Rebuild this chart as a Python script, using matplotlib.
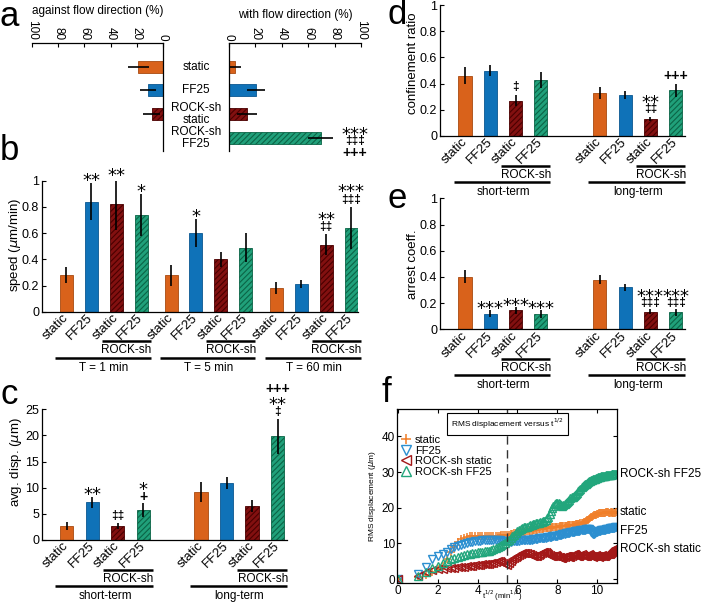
import numpy as np
import matplotlib
matplotlib.use('Agg')
import matplotlib.pyplot as plt
from matplotlib.transforms import blended_transform_factory, ScaledTranslation

# ---------------- data ----------------
a_categories = ['static', 'FF25', 'ROCK-sh\nstatic', 'ROCK-sh\nFF25']
against_vals = [19.0, 11.7, 8.6, 0.0]
against_err = [8.0, 6.0, 6.5, 0.0]
with_vals = [4.6, 20.5, 13.6, 69.4]
with_err = [4.8, 7.0, 7.5, 9.2]

bar_labels = ['static', 'FF25', 'static', 'FF25']

speed_groups = ['T = 1 min', 'T = 5 min', 'T = 60 min']
speed_vals = [0.28, 0.84, 0.82, 0.74, 0.28, 0.60, 0.40, 0.49, 0.18, 0.21, 0.51, 0.64]
speed_err = [0.06, 0.14, 0.20, 0.16, 0.08, 0.105, 0.055, 0.11, 0.045, 0.03, 0.08, 0.16]
speed_marks = {1: ['**'], 2: ['**'], 3: ['*'], 5: ['*'], 10: ['**', '‡‡'], 11: ['***', '‡‡‡']}

term_groups = ['short-term', 'long-term']
disp_vals = [2.7, 7.2, 2.7, 5.7, 9.1, 10.9, 6.5, 19.8]
disp_err = [0.8, 1.05, 0.6, 1.35, 1.9, 1.2, 1.1, 3.4]
disp_marks = {1: ['**'], 2: ['‡‡'], 3: ['*', '+'], 7: ['+++', '**', '‡']}

conf_vals = [0.46, 0.50, 0.27, 0.43, 0.33, 0.31, 0.13, 0.35]
conf_err = [0.065, 0.045, 0.04, 0.06, 0.045, 0.03, 0.015, 0.05]
conf_marks = {2: ['‡'], 6: ['**', '‡‡'], 7: ['+++']}

arrest_vals = [0.40, 0.12, 0.145, 0.115, 0.38, 0.32, 0.135, 0.13]
arrest_err = [0.05, 0.025, 0.027, 0.03, 0.035, 0.027, 0.02, 0.025]
arrest_marks = {1: ['***'], 2: ['***'], 3: ['***'], 6: ['***', '‡‡‡'], 7: ['***', '‡‡‡']}

# RMS displacement, sampled every minute (t = 0..120 min)
t_min = list(range(121))
rms_static = [0, 0.5, 1.2, 2.0, 2.8, 3.8, 5.5, 7.5, 9.0, 10.5, 11.2, 11.6, 11.8, 12.0, 12.0, 12.1, 12.1, 12.1,
              12.2, 12.1, 12.0, 12.1, 12.2, 12.1, 12.0, 12.1, 12.2, 12.3, 12.4, 12.3, 12.4, 12.5, 12.6, 12.7,
              12.8, 12.9, 13.0, 13.1, 13.1, 13.2, 13.3, 13.3, 13.4, 13.5, 13.6, 13.6, 13.7, 13.8, 13.8, 13.9,
              14.0, 14.0, 14.1, 14.1, 14.2, 14.2, 14.3, 14.3, 14.4, 14.4, 14.5, 14.5, 14.6, 14.6, 14.7, 14.7,
              14.8, 14.8, 14.9, 14.9, 15.0, 15.0, 15.0, 15.1, 15.1, 15.2, 15.2, 15.2, 15.3, 15.3, 15.4, 15.4,
              15.5, 15.5, 15.6, 15.7, 15.8, 15.9, 16.1, 16.3, 16.5, 16.7, 16.9, 17.1, 17.3, 17.5, 17.7, 17.9,
              18.0, 18.1, 18.2, 18.3, 18.4, 18.4, 18.5, 18.5, 18.6, 18.6, 18.6, 18.7, 18.7, 18.7, 18.6, 18.6,
              18.7, 18.7, 18.6, 18.6, 18.5, 18.6, 18.7]
rms_ff25 = [0, 1.5, 3.5, 5.5, 6.5, 7.0, 7.5, 8.5, 9.0, 9.3, 9.6, 9.9, 10.1, 10.3, 10.4, 10.6, 10.7, 10.8, 10.9,
            11.0, 11.0, 11.1, 11.1, 11.1, 11.0, 11.0, 10.9, 10.8, 10.7, 10.6, 10.6, 10.5, 10.5, 10.6, 10.6,
            10.7, 10.8, 10.8, 10.9, 10.9, 11.0, 11.0, 11.0, 11.0, 11.1, 11.1, 11.2, 11.2, 11.3, 11.3, 11.4,
            11.5, 11.5, 11.6, 11.6, 11.6, 11.7, 11.7, 11.8, 11.9, 12.0, 12.0, 12.1, 12.1, 12.2, 12.3, 12.4,
            12.5, 12.6, 12.6, 12.7, 12.8, 12.8, 12.9, 13.0, 13.1, 13.2, 13.3, 13.3, 13.4, 13.5, 13.5, 13.6,
            13.6, 13.7, 13.8, 13.8, 13.9, 13.9, 14.0, 14.0, 14.1, 14.0, 13.8, 13.3, 12.8, 12.6, 12.7, 12.9,
            13.1, 13.3, 13.4, 13.5, 13.6, 13.7, 13.8, 13.8, 13.9, 13.9, 14.0, 14.0, 14.1, 14.1, 14.2, 14.2,
            14.3, 14.3, 14.4, 14.4, 14.5, 14.6]
rms_rock_static = [0, 1.0, 2.0, 2.5, 2.8, 2.9, 3.0, 3.1, 3.2, 3.3, 3.4, 3.5, 3.6, 3.7, 3.8, 3.9, 4.0, 4.0, 4.1,
                   4.1, 4.2, 4.3, 4.4, 4.6, 4.8, 5.0, 5.0, 4.8, 4.5, 4.2, 4.0, 4.5, 5.2, 5.6, 5.9, 6.2, 6.5,
                   6.8, 7.1, 7.3, 7.4, 7.4, 7.3, 7.1, 6.9, 6.7, 6.5, 6.4, 6.4, 6.5, 6.7, 7.0, 7.3, 7.6, 7.7,
                   7.5, 7.2, 6.9, 6.7, 6.6, 6.5, 6.5, 6.6, 6.7, 6.5, 6.3, 6.1, 6.0, 6.0, 6.1, 6.3, 6.5, 6.6,
                   6.5, 6.3, 6.2, 6.4, 6.7, 6.9, 7.0, 6.8, 6.6, 6.5, 6.6, 6.8, 6.9, 6.8, 6.6, 6.4, 6.5, 6.6,
                   6.8, 6.9, 6.8, 6.6, 6.4, 6.3, 6.4, 6.6, 6.7, 6.6, 6.4, 6.3, 6.4, 6.6, 6.7, 6.6, 6.5, 6.6,
                   6.8, 6.9, 6.9, 7.0, 7.1, 7.3, 7.6, 7.9, 8.2, 8.4, 8.6, 8.7]
rms_rock_ff25 = [0, 1.0, 2.0, 3.0, 3.8, 4.5, 5.2, 5.7, 6.0, 6.3, 6.5, 6.7, 6.9, 7.0, 7.2, 7.4, 7.5, 7.6, 7.7,
                 7.8, 7.9, 8.0, 8.2, 8.4, 8.6, 8.9, 9.2, 9.5, 9.8, 10.2, 10.6, 11.0, 11.5, 12.0, 12.5, 13.0,
                 13.4, 13.8, 14.1, 14.3, 14.5, 14.6, 14.7, 14.9, 15.1, 15.3, 15.4, 15.5, 15.6, 15.7, 15.8,
                 15.9, 16.0, 16.2, 16.4, 16.7, 17.0, 17.5, 18.2, 19.0, 19.8, 20.5, 21.0, 21.3, 21.4, 21.3,
                 21.0, 20.7, 20.6, 20.7, 21.0, 21.3, 21.7, 22.0, 22.3, 22.6, 22.9, 23.1, 23.3, 23.6, 23.9,
                 24.2, 24.6, 25.0, 25.4, 25.7, 26.0, 26.3, 26.6, 26.8, 27.0, 27.2, 27.4, 27.6, 27.8, 27.9,
                 28.0, 28.1, 28.2, 28.3, 28.4, 28.5, 28.6, 28.7, 28.8, 28.8, 28.9, 29.0, 29.0, 29.1, 29.1,
                 29.2, 29.2, 29.3, 29.3, 29.4, 29.4, 29.5, 29.5, 29.6, 29.6]
rms_names = ['static', 'FF25', 'ROCK-sh static', 'ROCK-sh FF25']

# ---------------- style ----------------
W, H = 702, 603
plt.rcParams['font.family'] = ['Liberation Sans', 'DejaVu Sans']
plt.rcParams['hatch.linewidth'] = 0.8
plt.rcParams['axes.linewidth'] = 0.9

COL = ['#D9621B', '#0F72B8', '#821010', '#20A07A']
EDGE = ['#A84A10', '#0A5690', '#4A0000', '#0B6446']
HATCH = [None, None, '//////', '//////']
FCOL = ['#F07F2A', '#2C8FD0', '#A31818', '#22A67C']
FMARK = ['+', 'v', '<', '^']

fig = plt.figure(figsize=(W / 100, H / 100), dpi=100)


def add_ax(x0, y0, x1, y1):
    return fig.add_axes([x0 / W, 1 - y1 / H, (x1 - x0) / W, (y1 - y0) / H])


def glyph(s):
    if '*' in s:
        return dict(family='DejaVu Sans', fontsize=13, weight='normal'), 0.58
    if '‡' in s:
        return dict(family='Liberation Sans', fontsize=8.5, weight='bold'), 0.29
    return dict(family='Liberation Sans', fontsize=10, weight='bold'), 0.35


def stack(ax, x, y, lines, offsets_px):
    for s, off in zip(lines, offsets_px):
        props, k = glyph(s)
        shift = off - k * props['fontsize'] * 100 / 72
        ax.annotate(s, xy=(x, y), xytext=(0, shift * 0.72), textcoords='offset points',
                    ha='center', va='baseline', annotation_clip=False, **props)


def bar_panel(ax, pos, vals, errs, marks, d0, sp, hpx, groups, starts, ylim, yticks, yticklabels,
              ylabel, lab_xy):
    for i, (p, v) in enumerate(zip(pos, vals)):
        k = i % 4
        ax.bar(p, v, width=0.52, color=COL[k], edgecolor=EDGE[k], hatch=HATCH[k], linewidth=0.6, zorder=2)
    ax.errorbar(pos, vals, yerr=errs, fmt='none', ecolor='k', elinewidth=1.2, capsize=0, zorder=3)
    for i, lines in marks.items():
        n = len(lines)
        offs = [d0 + (n - 1 - j) * sp for j in range(n)]
        stack(ax, pos[i], vals[i] + errs[i], lines, offs)
    ax.set_ylim(*ylim)
    ax.set_yticks(yticks)
    ax.set_yticklabels(yticklabels)
    ax.set_xticks(pos)
    ax.set_xticklabels(bar_labels * (len(pos) // 4), rotation=45, ha='right', va='center',
                       rotation_mode='anchor', fontsize=9.5)
    shift = ScaledTranslation(5 / 100, 0, fig.dpi_scale_trans)
    for lbl in ax.get_xticklabels():
        lbl.set_transform(lbl.get_transform() + shift)
    ax.tick_params(axis='x', length=0, pad=3)
    ax.tick_params(axis='y', direction='in', length=3, labelsize=9, pad=2)
    for sp_ in ['top', 'right']:
        ax.spines[sp_].set_visible(False)
    ax.set_ylabel(ylabel, fontsize=9.5)
    ax.yaxis.set_label_coords(*lab_xy)
    tr = blended_transform_factory(ax.transData, ax.transAxes)
    f = lambda d: -d / hpx
    for p0, name in zip(starts, groups):
        ax.plot([p0 + 1.42, p0 + 3.38], [f(29.5)] * 2, transform=tr, clip_on=False, color='k', lw=1.8,
                solid_capstyle='butt')
        ax.text(p0 + 2.42, f(38.5), 'ROCK-sh', transform=tr, ha='center', va='center', fontsize=8.5)
        ax.plot([p0 - 0.45, p0 + 3.38], [f(46)] * 2, transform=tr, clip_on=False, color='k', lw=1.8,
                solid_capstyle='butt')
        ax.text(p0 + 1.5, f(56), name, transform=tr, ha='center', va='center', fontsize=8.5)


# ---------------- panel a ----------------
ypos = np.arange(1, 5)
axL = add_ax(32, 43, 163, 151)
axR = add_ax(229, 43, 361, 151)
for ax, vals, errs in [(axL, against_vals, against_err), (axR, with_vals, with_err)]:
    for i in range(4):
        if vals[i] > 0:
            ax.barh(ypos[i], vals[i], height=0.5, color=COL[i], edgecolor=EDGE[i], hatch=HATCH[i],
                    linewidth=0.6, zorder=2)
            ax.errorbar(vals[i], ypos[i], xerr=errs[i], fmt='none', ecolor='k', elinewidth=1.2,
                        capsize=0, zorder=3)
    ax.set_ylim(4.56, 0)
    ax.xaxis.tick_top()
    ax.set_xticks([0, 20, 40, 60, 80, 100])
    ax.set_xticklabels(['0', '20', '40', '60', '80', '100'], rotation=-90)
    ax.tick_params(axis='x', direction='in', length=3, labelsize=8.5, pad=2)
    ax.set_yticks([])
    ax.spines['bottom'].set_visible(False)
axL.set_xlim(100, 0)
axR.set_xlim(0, 100)
axL.spines['left'].set_visible(False)
axR.spines['right'].set_visible(False)
for i, c in enumerate(a_categories):
    axL.text(1.252, ypos[i], c, transform=blended_transform_factory(axL.transAxes, axL.transData),
             ha='center', va='center', fontsize=8.5, linespacing=0.95)
fig.text(97.5 / W, 1 - 11 / H, 'against flow direction (%)', ha='center', va='center', fontsize=8.5)
fig.text(295 / W, 1 - 15 / H, 'with flow direction (%)', ha='center', va='center', fontsize=8.5)
stack(axR, with_vals[3] + with_err[3] + 17, ypos[3], ['***', '‡‡‡', '+++'], [8.5, -3.0, -14.0])

# ---------------- panel b ----------------
axB = add_ax(42, 180.7, 358, 311.7)
pos_b = [g * 4.2 + i for g in range(3) for i in range(4)]
axB.set_xlim(-0.96, 11.68)
bar_panel(axB, pos_b, speed_vals, speed_err, speed_marks, 7.5, 12.5, 131, speed_groups, [0, 4.2, 8.4],
          (0, 1), [0, 0.2, 0.4, 0.6, 0.8, 1], ['0', '0.2', '0.4', '0.6', '0.8', '1'],
          r'speed ($\mu$m/min)', ((23 - 42) / 316, 0.51))

# ---------------- panel c ----------------
axC = add_ax(42, 409.3, 287.3, 540)
pos_c = [g * 5.27 + i for g in range(2) for i in range(4)]
axC.set_xlim(-0.97, 8.65)
bar_panel(axC, pos_c, disp_vals, disp_err, disp_marks, 7.5, 11.5, 130.7, term_groups, [0, 5.27],
          (0, 25), [0, 5, 10, 15, 20, 25], ['0', '5', '10', '15', '20', '25'],
          r'avg. disp. ($\mu$m)', ((24.5 - 42) / 245.3, 0.6))

# ---------------- panel d ----------------
axD = add_ax(440, 5, 685, 136)
pos_d = [g * 5.33 + i for g in range(2) for i in range(4)]
axD.set_xlim(-0.99, 8.7)
bar_panel(axD, pos_d, conf_vals, conf_err, conf_marks, 8.5, 11.3, 131, term_groups, [0, 5.33],
          (0, 1), [0, 0.2, 0.4, 0.6, 0.8, 1], ['0', '0.2', '0.4', '0.6', '0.8', '1'],
          'confinement ratio', ((419.5 - 440) / 245, 0.555))

# ---------------- panel e ----------------
axE = add_ax(440, 198.3, 685, 329.3)
axE.set_xlim(-0.99, 8.7)
bar_panel(axE, pos_d, arrest_vals, arrest_err, arrest_marks, 6.5, 11, 131, term_groups, [0, 5.33],
          (0, 1), [0, 0.2, 0.4, 0.6, 0.8, 1], ['0', '0.2', '0.4', '0.6', '0.8', '1'],
          'arrest coeff.', ((419.5 - 440) / 245, 0.5))

# ---------------- panel f ----------------
axF = add_ax(397, 409, 617, 583)
x_f = np.sqrt(np.array(t_min, dtype=float))
series = [rms_static, rms_ff25, rms_rock_static, rms_rock_ff25]
label_dy = [0, -3.6, -1.4, 0]
for k, (ys, name) in enumerate(zip(series, rms_names)):
    if FMARK[k] == '+':
        axF.plot(x_f, ys, ls='none', marker='+', ms=5.5, mew=1.1, color=FCOL[k], label=name)
    else:
        axF.plot(x_f, ys, ls='none', marker=FMARK[k], ms=5.5, mew=1.0, mfc='none', mec=FCOL[k],
                 color=FCOL[k], label=name)
    axF.annotate(name, xy=(x_f[-1], ys[-1]), xytext=(4 * 0.72, label_dy[k] * 0.72),
                 textcoords='offset points', ha='left', va='center', fontsize=8.5, annotation_clip=False)
axF.axvline(5.5, color='#333333', ls=(0, (6, 4)), lw=1.0)
axF.text(5.5, 43.6, r'RMS displacement versus t$^{1/2}$', ha='center', va='center', fontsize=6,
         bbox=dict(boxstyle='square,pad=0.45', fc='white', ec='k', lw=0.8))
axF.set_xlim(-0.05, 11)
axF.set_ylim(-1.1, 47.7)
axF.set_xticks([0, 2, 4, 6, 8, 10])
axF.set_yticks([0, 10, 20, 30, 40])
axF.tick_params(direction='in', length=3, labelsize=8.5, pad=1.5, top=True, right=True)
axF.set_xlabel(r't$^{1/2}$ (min$^{1/2}$)', fontsize=5.5, va='center')
axF.xaxis.set_label_coords(0.48, -(595.5 - 583) / 174)
axF.set_ylabel(r'RMS displacement ($\mu$m)', fontsize=6)
axF.yaxis.set_label_coords((378 - 397) / 220, 0.5)
leg = axF.legend(loc='upper left', bbox_to_anchor=(0.02, 0.85), frameon=False, fontsize=8,
                 handlelength=0.9, handletextpad=0.3, labelspacing=0.05, borderpad=0, borderaxespad=0,
                 markerscale=1.3)

# ---------------- panel letters ----------------
for letter, (px, py) in {'a': (9, 16), 'b': (9, 150), 'c': (9, 394), 'd': (397, 15), 'e': (397, 198),
                         'f': (386, 392)}.items():
    fig.text(px / W, 1 - py / H, letter, ha='center', va='center', fontsize=25)

fig.savefig('out.png', dpi=100)
